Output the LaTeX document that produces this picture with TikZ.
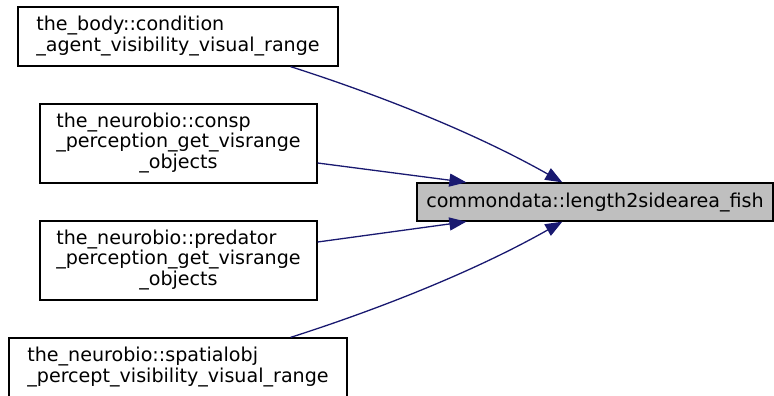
\documentclass[tikz,border=0pt]{standalone}
\usepackage{fontspec}
\setmainfont{DejaVu Sans}
\usetikzlibrary{arrows.meta}
\definecolor{edgeblue}{HTML}{191970}
\definecolor{targetgray}{HTML}{BFBFBF}
\tikzset{
  fnbox/.style={draw=black, line width=1.3pt, inner sep=0pt, fill=white,
    font=\fontsize{19.1}{20.5}\selectfont},
  fnedge/.style={draw=edgeblue, line width=1.3pt,
    -{Triangle[length=17pt,width=13pt]}}
}
\begin{document}
\begin{tikzpicture}[x=1pt,y=-1pt]
\useasboundingbox (0,0) rectangle (774,396);
\node[fnbox, minimum width=320pt, minimum height=59pt] (A) at (178,36.5)
  {\begin{tabular}{@{}l@{}}the\_body::condition\\\_agent\_visibility\_visual\_range\end{tabular}};
\node[fnbox, minimum width=277pt, minimum height=79pt] (B) at (178.5,143.5)
  {\begin{tabular}{@{}l@{}}the\_neurobio::consp\\\_perception\_get\_visrange\\\multicolumn{1}{@{}c@{}}{\_objects}\end{tabular}};
\node[fnbox, minimum width=277pt, minimum height=79pt] (C) at (178.5,260.5)
  {\begin{tabular}{@{}l@{}}the\_neurobio::predator\\\_perception\_get\_visrange\\\multicolumn{1}{@{}c@{}}{\_objects}\end{tabular}};
\node[fnbox, minimum width=338pt, minimum height=59pt] (D) at (178,367.5)
  {\begin{tabular}{@{}l@{}}the\_neurobio::spatialobj\\\_percept\_visibility\_visual\_range\end{tabular}};
\node[fnbox, fill=targetgray, minimum width=356pt, minimum height=38pt] (T) at (595,202)
  {commondata::length2sidearea\_fish};
\draw[fnedge] ([xshift=-48pt]A.south east) .. controls (370,92) and (470,130) .. ([xshift=146pt]T.north west);
\draw[fnedge] ([yshift=-19.5pt]B.east) -- ([xshift=50pt]T.north west);
\draw[fnedge] ([yshift=18.5pt]C.east) -- ([xshift=50pt]T.south west);
\draw[fnedge] ([xshift=-57pt]D.north east) .. controls (370,312) and (470,274) .. ([xshift=146pt]T.south west);
\end{tikzpicture}
\end{document}
